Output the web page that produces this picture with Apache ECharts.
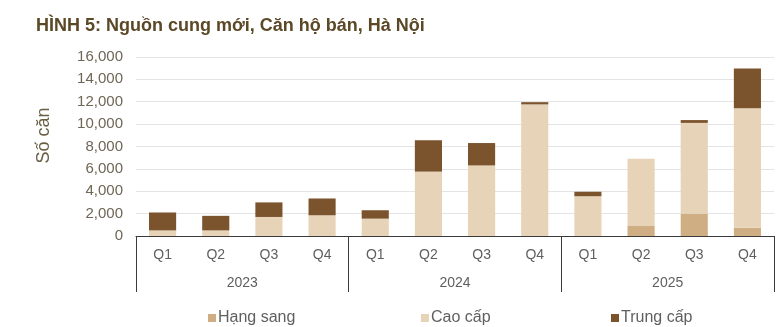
<!DOCTYPE html>
<html>
<head>
<meta charset="utf-8">
<style>
  html, body { margin: 0; padding: 0; background: #fff; }
  #chart { width: 779px; height: 327px; }
</style>
<script src="https://cdn.jsdelivr.net/npm/echarts@6/dist/echarts.min.js"></script>
</head>
<body>
<div id="chart"></div>
<script>
// Quarterly new supply of condominiums for sale, Hanoi (units)
const quarters = ['Q1', 'Q2', 'Q3', 'Q4', 'Q1', 'Q2', 'Q3', 'Q4', 'Q1', 'Q2', 'Q3', 'Q4'];
const years = ['2023', '2024', '2025'];
const hangSang = [0, 0, 0, 0, 0, 0, 0, 0, 0, 900, 2000, 750];
const caoCap = [500, 500, 1700, 1850, 1550, 5750, 6300, 11750, 3550, 6000, 8100, 10650];
const trungCap = [1600, 1300, 1300, 1500, 750, 2800, 2000, 200, 400, 0, 250, 3550];
const yTicks = [0, 2000, 4000, 6000, 8000, 10000, 12000, 14000, 16000];

const FONT = '"Liberation Sans", Arial, sans-serif';
const colors = { hs: '#cfae84', cc: '#e7d3b7', tc: '#7b532d' };

const chart = echarts.init(document.getElementById('chart'), null, { renderer: 'canvas' });

function legendFor(name, left) {
  return {
    data: [name], left: left, top: 305, itemWidth: 8, itemHeight: 8, itemGap: 0,
    icon: 'rect', selectedMode: false,
    textStyle: { fontFamily: FONT, fontSize: 16, color: '#5f5f5f', padding: [0, 0, 0, -3] }
  };
}

chart.setOption({
  animation: false,
  textStyle: { fontFamily: FONT },
  title: {
    text: 'HÌNH 5: Nguồn cung mới, Căn hộ bán, Hà Nội',
    left: 31, top: 12,
    textStyle: { fontFamily: FONT, fontSize: 18, fontWeight: 'bold', color: '#5b4826' }
  },
  legend: [
    legendFor('Hạng sang', 203),
    legendFor('Cao cấp', 416),
    legendFor('Trung cấp', 606)
  ],
  grid: { left: 136, right: 5, top: 56.8, bottom: 91, containLabel: false },
  xAxis: [
    {
      type: 'category', data: quarters, position: 'bottom',
      axisLine: { show: true, lineStyle: { color: '#3a3a3a', width: 1 } },
      axisTick: { show: false },
      axisLabel: { color: '#5f5f5f', fontSize: 14, margin: 12, fontFamily: FONT }
    },
    {
      type: 'category', data: years, position: 'bottom',
      axisLine: { show: false },
      axisTick: { show: true, length: 56, lineStyle: { color: '#3a3a3a', width: 1 } },
      axisLabel: { color: '#5f5f5f', fontSize: 14, margin: 40, fontFamily: FONT }
    }
  ],
  yAxis: {
    type: 'value', min: yTicks[0], max: yTicks[yTicks.length - 1], interval: 2000,
    name: 'Số căn', nameLocation: 'middle', nameGap: 83, nameRotate: 90,
    nameTextStyle: { fontFamily: FONT, fontSize: 18, color: '#6b5e45', padding: [0, 0, 0, 22] },
    axisLine: { show: false }, axisTick: { show: false },
    axisLabel: {
      color: '#6e6656', fontSize: 15, margin: 13, fontFamily: FONT,
      formatter: v => v.toLocaleString('en-US')
    },
    splitLine: { lineStyle: { color: '#e4e4e4', width: 1 } }
  },
  series: [
    { name: 'Hạng sang', type: 'bar', stack: 'total', data: hangSang, barWidth: '51%',
      itemStyle: { color: colors.hs } },
    { name: 'Cao cấp', type: 'bar', stack: 'total', data: caoCap, barWidth: '51%',
      itemStyle: { color: colors.cc } },
    { name: 'Trung cấp', type: 'bar', stack: 'total', data: trungCap, barWidth: '51%',
      itemStyle: { color: colors.tc } }
  ]
});
</script>
</body>
</html>
